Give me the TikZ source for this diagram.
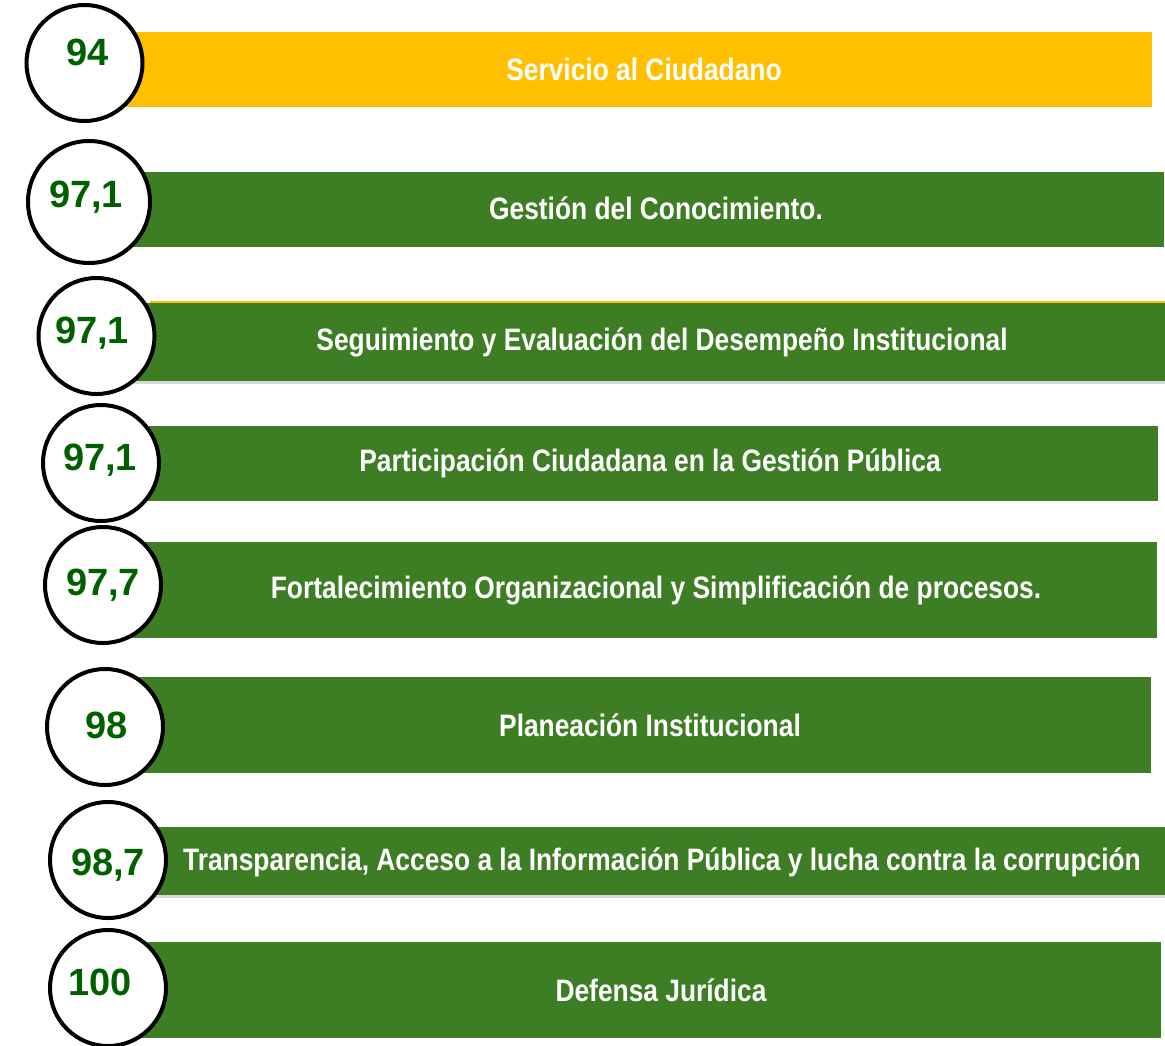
\documentclass[tikz,border=0pt]{standalone}
\usepackage{fontspec}
\setmainfont{Liberation Sans}
\newfontfamily\narrowfont{Liberation Sans}[FakeStretch=0.85]
\usetikzlibrary{shadows}
\definecolor{barGreen}{RGB}{61,125,36}
\definecolor{barYellow}{RGB}{255,192,0}
\definecolor{numGreen}{RGB}{0,96,0}
\begin{document}
\begin{tikzpicture}[x=1pt,y=-1pt]
\tikzset{bar/.style={rectangle, draw=none, inner sep=0pt}}
\tikzset{bartext/.style={text=white, font=\narrowfont\bfseries\fontsize{31}{33}\selectfont, inner sep=0pt}}
\tikzset{numcircle/.style={circle, draw=black, line width=4pt, fill=white, minimum size=116pt, inner sep=0pt}}
\tikzset{numtext/.style={text=numGreen, font=\bfseries\fontsize{38}{40}\selectfont, inner sep=0pt}}
\tikzstyle{barshadow} = [drop shadow={shadow xshift=2pt, shadow yshift=-3pt, opacity=0.3}]
\useasboundingbox (0,0) rectangle (1165,1045);
\fill[white] (0,0) rectangle (1165,1045);
% bars
\node[bar, fill=barYellow, minimum width=1027pt, minimum height=75pt] (b1) at (638.5,69.5) {};
\node[bar, fill=barGreen, minimum width=1034pt, minimum height=75pt] (b2) at (647,209.5) {};
\node[bar, fill=barYellow, minimum width=1015pt, minimum height=79pt] (b3y) at (657.5,340.5) {};
\node[bar, fill=barGreen, barshadow, minimum width=1035pt, minimum height=78pt] (b3) at (647.5,342) {};
\node[bar, fill=barGreen, minimum width=1028pt, minimum height=75pt] (b4) at (644,463.5) {};
\node[bar, fill=barGreen, minimum width=1025pt, minimum height=96pt] (b5) at (644.5,590) {};
\node[bar, fill=barGreen, minimum width=1018pt, minimum height=96pt] (b6) at (642,725) {};
\node[bar, fill=barGreen, barshadow, minimum width=1035pt, minimum height=68pt] (b7) at (647.5,861) {};
\node[bar, fill=barGreen, minimum width=1031pt, minimum height=96pt] (b8) at (645.5,990) {};
% labels
\node[bartext] (t1) at (644,69) {Servicio al Ciudadano};
\node[bartext] (t2) at (656,208) {Gestión del Conocimiento.};
\node[bartext] (t3) at (662,342) {Seguimiento y Evaluación del Desempeño Institucional};
\node[bartext] (t4) at (650,463) {Participación Ciudadana en la Gestión Pública};
\node[bartext] (t5) at (656,590) {Fortalecimiento Organizacional y Simplificación de procesos.};
\node[bartext] (t6) at (650,725) {Planeación Institucional};
\node[bartext] (t7) at (662,862) {Transparencia, Acceso a la Información Pública y lucha contra la corrupción};
\node[bartext] (t8) at (661,990) {Defensa Jurídica};
% circles
\node[numcircle] (c1) at (84.5,63) {};
\node[numcircle, minimum size=122pt] (c2) at (89,202) {};
\node[numcircle] (c3) at (96.5,336) {};
\node[numcircle] (c4) at (101,463) {};
\node[numcircle] (c5) at (103,585) {};
\node[numcircle] (c6) at (105,727) {};
\node[numcircle] (c7) at (108,860) {};
\node[numcircle] (c8) at (108,988) {};
\node[numtext] (n1) at (88,52) {94};
\node[numtext] (n2) at (86,197) {97,1};
\node[numtext] (n3) at (92,333) {97,1};
\node[numtext] (n4) at (100,460) {97,1};
\node[numtext] (n5) at (103,585) {97,7};
\node[numtext] (n6) at (107,725) {98};
\node[numtext] (n7) at (108,865) {98,7};
\node[numtext] (n8) at (100,982) {100};
\end{tikzpicture}
\end{document}
